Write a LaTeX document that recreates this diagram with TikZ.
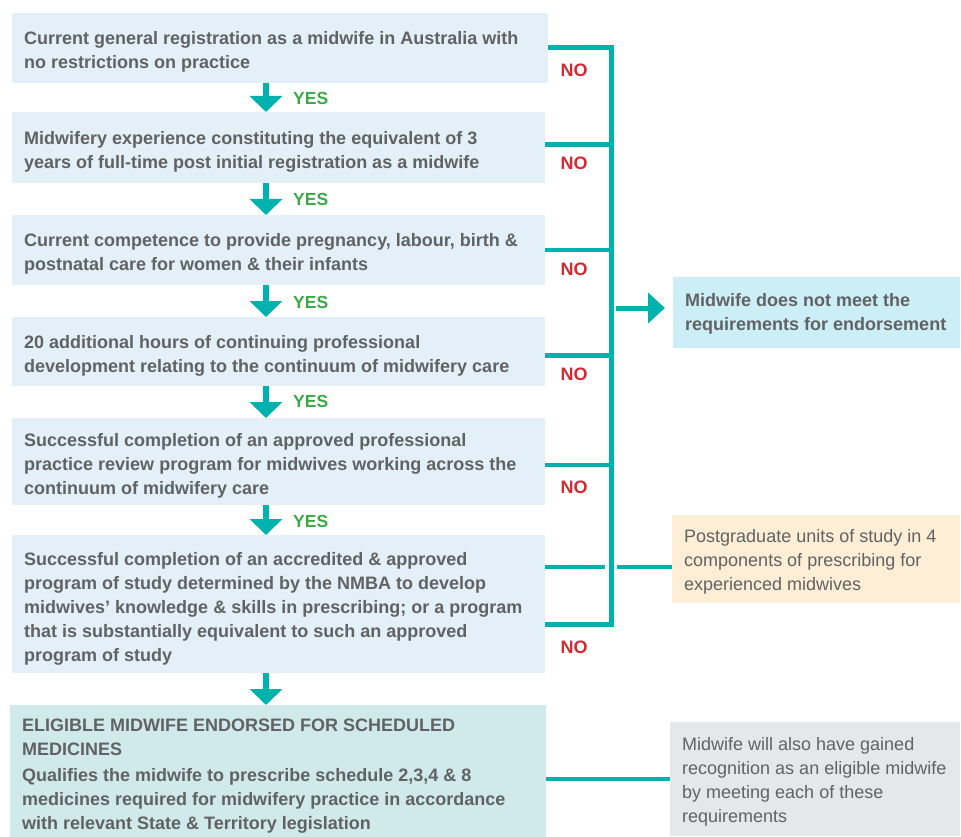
\documentclass[tikz,border=0pt]{standalone}
\usepackage{fontspec}
\setmainfont{Liberation Sans}
\usetikzlibrary{arrows.meta}
\definecolor{tealc}{HTML}{00B2AD}
\definecolor{boxblue}{HTML}{E3F0F8}
\definecolor{boxcyan}{HTML}{CCEFF7}
\definecolor{boxpeach}{HTML}{FEEED6}
\definecolor{boxgrey}{HTML}{E6E7E8}
\definecolor{boxfinal}{HTML}{D0EAEC}
\definecolor{txtgrey}{HTML}{616264}
\definecolor{nored}{HTML}{D7282F}
\definecolor{yesgreen}{HTML}{3AAA49}
% #1 extra height (moves text down by half), #2 text area width, #3 lines
\newcommand{\boxlines}[3]{\raisebox{0pt}[\dimexpr\height+#1\relax][\depth]{\makebox[#2][l]{\begin{tabular}{@{}l@{}}#3\end{tabular}}}}
\tikzset{
  basebox/.style={rectangle, anchor=north west, inner ysep=0pt, inner xsep=12pt,
    text=txtgrey, font=\fontsize{18}{24}\selectfont},
  bold box/.style={font=\fontsize{18}{24}\selectfont\bfseries},
  stepbox/.style={basebox, fill=boxblue, bold box},
  yeslbl/.style={anchor=west, text=yesgreen, font=\fontsize{17.5}{20}\selectfont\bfseries, inner sep=0pt},
  nolbl/.style={text=nored, font=\fontsize{18}{20}\selectfont\bfseries, inner sep=0pt},
  downarrow/.style={draw=tealc, line width=6.5pt, -{Triangle[length=16pt,width=32pt]}},
  bracket/.style={draw=tealc, line width=4.5pt},
}
\begin{document}
\begin{tikzpicture}[x=1pt,y=-1pt]
\useasboundingbox (0,0) rectangle (961,837);

% left step boxes
\node[stepbox, minimum height=70pt] (b1) at (12,13)
  {\boxlines{8pt}{512pt}{Current general registration as a midwife in Australia with\\no restrictions on practice}};
\node[stepbox, minimum height=71pt] (b2) at (12,112)
  {\boxlines{8pt}{509pt}{Midwifery experience constituting the equivalent of 3\\years of full-time post initial registration as a midwife}};
\node[stepbox, minimum height=70pt] (b3) at (12,215)
  {\boxlines{8pt}{509pt}{Current competence to provide pregnancy, labour, birth \&\\postnatal care for women \& their infants}};
\node[stepbox, minimum height=69pt] (b4) at (12,317)
  {\boxlines{8pt}{509pt}{20 additional hours of continuing professional\\development relating to the continuum of midwifery care}};
\node[stepbox, minimum height=87pt] (b5) at (12,418)
  {\boxlines{8pt}{509pt}{Successful completion of an approved professional\\practice review program for midwives working across the\\continuum of midwifery care}};
\node[stepbox, minimum height=138pt] (b6) at (12,535)
  {\boxlines{8pt}{509pt}{Successful completion of an accredited \& approved\\program of study determined by the NMBA to develop\\midwives’ knowledge \& skills in prescribing; or a program\\that is substantially equivalent to such an approved\\program of study}};
\node[basebox, bold box, fill=boxfinal, minimum height=132pt] (f) at (10,705)
  {\boxlines{8pt}{512pt}{ELIGIBLE MIDWIFE ENDORSED FOR SCHEDULED\\MEDICINES\\[2pt]Qualifies the midwife to prescribe schedule 2,3,4 \& 8\\medicines required for midwifery practice in accordance\\with relevant State \& Territory legislation}};

% right boxes
\node[basebox, bold box, fill=boxcyan, minimum height=71pt] (r1) at (673,277)
  {\boxlines{2pt}{263pt}{Midwife does not meet the\\requirements for endorsement}};
\node[basebox, fill=boxpeach, minimum height=88pt] (p) at (672,515)
  {\boxlines{4pt}{264pt}{Postgraduate units of study in 4\\components of prescribing for\\experienced midwives}};
\node[basebox, fill=boxgrey, minimum height=114pt] (g) at (670,722)
  {\boxlines{4pt}{266pt}{Midwife will also have gained\\recognition as an eligible midwife\\by meeting each of these\\requirements}};

% down arrows
\coordinate (ax) at (266,0);
\draw[downarrow] (b1.south -| ax) -- (b2.north -| ax);
\draw[downarrow] (b2.south -| ax) -- (b3.north -| ax);
\draw[downarrow] (b3.south -| ax) -- (b4.north -| ax);
\draw[downarrow] (b4.south -| ax) -- (b5.north -| ax);
\draw[downarrow] (b5.south -| ax) -- (b6.north -| ax);
\draw[downarrow] (b6.south -| ax) -- (f.north -| ax);

% YES labels
\node[yeslbl] (y1) at (293,98.5) {YES};
\node[yeslbl] (y2) at (293,199.5) {YES};
\node[yeslbl] (y3) at (293,302) {YES};
\node[yeslbl] (y4) at (293,401.5) {YES};
\node[yeslbl] (y5) at (293,521) {YES};

% NO labels
\node[nolbl] (n1) at (574,70) {NO};
\node[nolbl] (n2) at (574,163) {NO};
\node[nolbl] (n3) at (574,269) {NO};
\node[nolbl] (n4) at (574,374) {NO};
\node[nolbl] (n5) at (574,487) {NO};
\node[nolbl] (n6) at (574,647) {NO};

% bracket
\coordinate (v1) at (611.5,47.5);
\coordinate (v2) at (611.5,144.5);
\coordinate (v3) at (611.5,250);
\coordinate (v4) at (611.5,355.5);
\coordinate (v5) at (611.5,465);
\coordinate (v6) at (611.5,624.5);
\draw[bracket, line join=miter] (b1.east |- v1) -- (v1) -- (v6) -- (b6.east |- v6);
\draw[bracket] (b2.east |- v2) -- (v2);
\draw[bracket] (b3.east |- v3) -- (v3);
\draw[bracket] (b4.east |- v4) -- (v4);
\draw[bracket] (b5.east |- v5) -- (v5);

% arrow to "does not meet"
\coordinate (as) at (616,308);
\draw[draw=tealc, line width=5pt, -{Triangle[length=17pt,width=30pt]}] (as) -- ([xshift=-8pt]r1.west |- as);

% postgraduate connector (broken at bracket)
\coordinate (pg1) at (605,567);
\coordinate (pg2) at (617,567);
\draw[draw=tealc, line width=4.5pt] (b6.east |- pg1) -- (pg1);
\draw[draw=tealc, line width=4.5pt] (pg2) -- (p.west |- pg2);

% final connector
\draw[draw=tealc, line width=4.5pt] (f.east |- g.west) -- (g.west);
\end{tikzpicture}
\end{document}
